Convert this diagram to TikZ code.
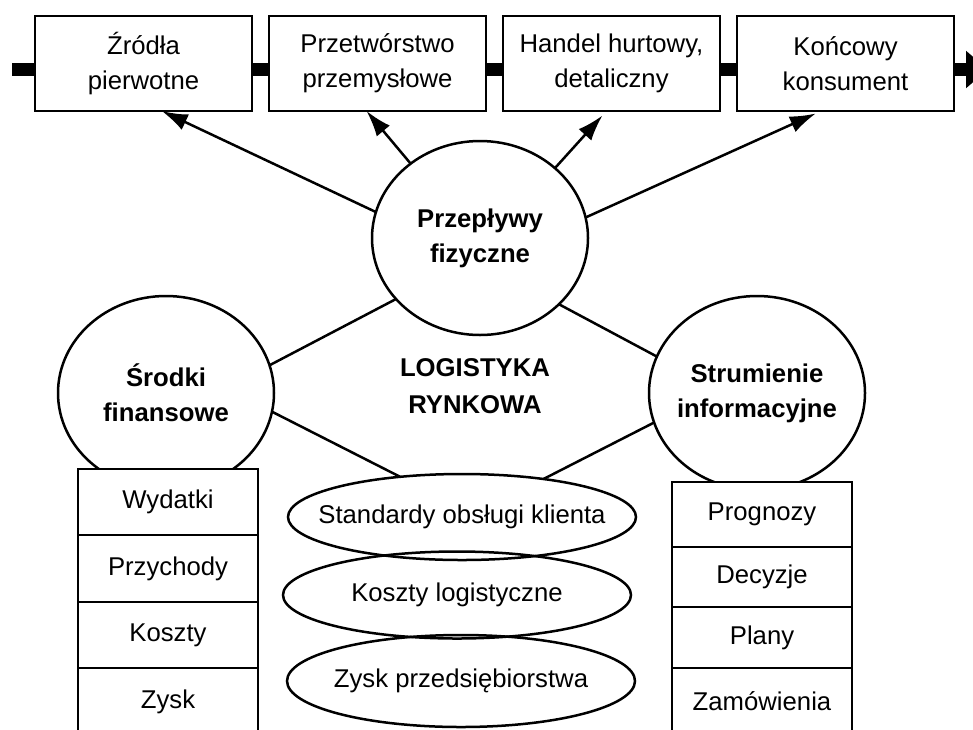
\documentclass[tikz,border=0pt]{standalone}
\usepackage{fontspec}
\setmainfont{Liberation Sans}
\usetikzlibrary{arrows.meta,positioning,shapes.geometric}

\begin{document}
\begin{tikzpicture}[x=1pt,y=-1pt,line width=2.5pt,>={Latex[length=26pt,width=17pt]},
		every node/.style={font=\fontsize{25.7}{35}\selectfont},
		stage/.style={draw,fill=white,minimum width=217pt,minimum height=95pt,align=center,inner sep=0pt,outer sep=0pt},
		flow/.style={ellipse,draw,fill=white,minimum width=216pt,minimum height=194pt,align=center,inner xsep=-12pt,inner ysep=0pt,outer sep=0pt,font=\fontsize{25.7}{35}\selectfont\bfseries},
		goal/.style={ellipse,draw,minimum width=348pt,inner xsep=-25pt,inner ysep=0pt,outer sep=0pt},
		cell/.style={draw,fill=white,minimum width=180pt,inner sep=0pt,outer sep=0pt}]
		\clip (0,0) rectangle (973,729);

		% main stream of goods
		\coordinate (in) at (12,69.5);
		\coordinate (out) at (988,69.5);
		\draw[line width=13pt,-{Triangle[length=22pt,width=36pt]}] (in) -- (out);

		\node[stage] (zr) at (143.5,63.5) {Źródła\\pierwotne};
		\node[stage] (pp) [right=17pt of zr] {Przetwórstwo\\przemysłowe};
		\node[stage] (hd) [right=17pt of pp] {Handel hurtowy,\\detaliczny};
		\node[stage] (kk) [right=17pt of hd] {Końcowy\\konsument};

		\node[flow] (pf) at (480,238) {Przepływy\\fizyczne};
		\node[flow] (sf) at (166,393) {Środki\\finansowe};
		\node[flow] (si) at (757,393) {Strumienie\\informacyjne};
		\node[align=center,font=\fontsize{25.7}{37}\selectfont\bfseries] (lr) at (475,386) {LOGISTYKA\\RYNKOWA};

		\node[goal,minimum height=86pt] (so) at (462,517) {Standardy obsługi klienta};
		\node[goal,minimum height=87pt] (kl) at (457,595) {Koszty logistyczne};
		\node[goal,minimum height=92pt] (zp) at (461,681) {Zysk przedsiębiorstwa};

		% finance
		\node[cell,minimum height=66pt] (wy) at (168,502) {Wydatki};
		\node[cell,minimum height=67pt] (ph) [below=0pt of wy] {Przychody};
		\node[cell,minimum height=66pt] (ko) [below=0pt of ph] {Koszty};
		\node[cell,minimum height=67pt] (zy) [below=0pt of ko] {Zysk};

		% information
		\node[cell,minimum height=65pt] (pr) at (762,514.5) {Prognozy};
		\node[cell,minimum height=60pt] (de) [below=0pt of pr] {Decyzje};
		\node[cell,minimum height=61pt] (pl) [below=0pt of de] {Plany};
		\node[cell,minimum height=67pt] (za) [below=0pt of pl] {Zamówienia};

		\path
		(sf.15) edge (pf.216)
		(pf.-40) edge (si.160)
		(sf.-10) edge (so.147)
		(si.196) edge (so.25);

		\path[->]
		(pf.166) edge (zr.-69)
		(pf.133) edge (pp.-103)
		(pf.43) edge [shorten >=6pt] (hd.-96)
		(pf.11) edge [shorten >=6pt] (kk.-117);
	\end{tikzpicture}
\end{document}
